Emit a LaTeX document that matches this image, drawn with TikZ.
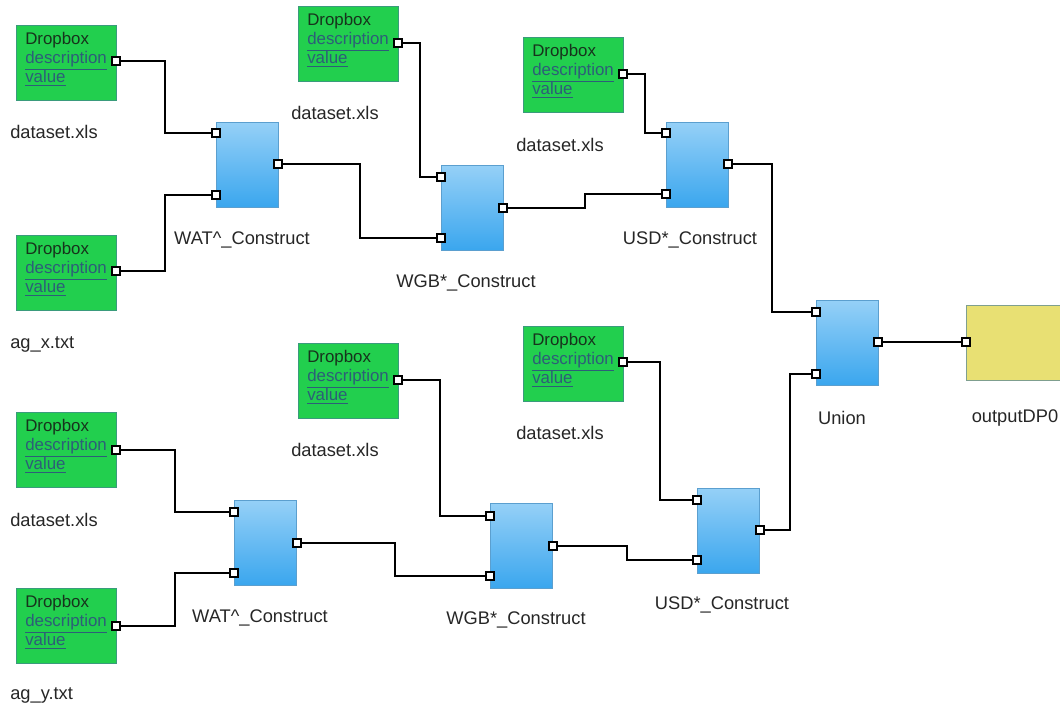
\documentclass[tikz,border=0pt]{standalone}
\usepackage{fontspec}
\setmainfont{Liberation Sans}
\usepackage{xcolor}

\definecolor{boxgreen}{HTML}{22CF4E}
\definecolor{greenedge}{HTML}{3A9B7C}
\definecolor{linkblue}{HTML}{2D5E78}
\definecolor{droptext}{HTML}{17331C}
\definecolor{optop}{HTML}{95D0F7}
\definecolor{opbottom}{HTML}{3AA6EE}
\definecolor{opedge}{HTML}{5B9FCF}
\definecolor{outyellow}{HTML}{E8E073}
\definecolor{outedge}{HTML}{7F9F8F}

\newcommand{\dlink}[1]{\textcolor{linkblue}{\underline{#1}}}

\begin{document}
\begin{tikzpicture}[x=0.025cm, y=-0.025cm,
dropbox/.style={draw=greenedge, fill=boxgreen, anchor=north west, minimum width=2.5cm,
  minimum height=1.875cm, align=left, text width=2.05cm, inner xsep=0.22cm, inner ysep=0pt,
  text depth=1.2cm, text=droptext, font=\fontsize{12}{13.5}\selectfont},
op/.style={draw=opedge, top color=optop, bottom color=opbottom, anchor=north west,
  minimum width=1.55cm, minimum height=2.125cm, inner sep=0pt},
outbox/.style={draw=outedge, fill=outyellow, anchor=north west, minimum width=2.6cm,
  minimum height=1.875cm, inner sep=0pt},
port/.style={draw=black, fill=white, line width=0.9pt, minimum size=0.2cm, inner sep=0pt},
wire/.style={line width=1.8pt},
fname/.style={anchor=west, inner sep=0pt, text=black!85, font=\fontsize{13}{15}\selectfont},
caption/.style={inner sep=0pt, text=black!85, font=\fontsize{13}{15}\selectfont}]
\useasboundingbox (0,0) rectangle (1060,708);

% sources
\node[dropbox] (src1) at (16,25) {Dropbox\\\dlink{description}\\\dlink{value}};
\node[dropbox] (src2) at (16,235) {Dropbox\\\dlink{description}\\\dlink{value}};
\node[dropbox] (src3) at (298,6) {Dropbox\\\dlink{description}\\\dlink{value}};
\node[dropbox] (src4) at (523,37) {Dropbox\\\dlink{description}\\\dlink{value}};
\node[dropbox] (src5) at (298,343) {Dropbox\\\dlink{description}\\\dlink{value}};
\node[dropbox] (src6) at (523,326) {Dropbox\\\dlink{description}\\\dlink{value}};
\node[dropbox] (src7) at (16,412) {Dropbox\\\dlink{description}\\\dlink{value}};
\node[dropbox] (src8) at (16,588) {Dropbox\\\dlink{description}\\\dlink{value}};

\node[fname] (src1 name) at (10,132) {dataset.xls};
\node[fname] (src2 name) at (10,344) {ag\_x.txt};
\node[fname] (src3 name) at (291,113) {dataset.xls};
\node[fname] (src4 name) at (516,145) {dataset.xls};
\node[fname] (src5 name) at (291,450) {dataset.xls};
\node[fname] (src6 name) at (516,433) {dataset.xls};
\node[fname] (src7 name) at (10,520) {dataset.xls};
\node[fname] (src8 name) at (10,695) {ag\_y.txt};

% operators
\node[op] (wat1) at (216,122) {};
\node[op] (wgb1) at (441,165) {};
\node[op] (usd1) at (666,122) {};
\node[op] (union) at (816,300) {};
\node[op] (wat2) at (234,500) {};
\node[op] (wgb2) at (490,503) {};
\node[op] (usd2) at (697,488) {};
\node[outbox] (outDP) at (966,305) {};

\node[caption] (wat1 name) at (242,240) {WAT\textasciicircum\_Construct};
\node[caption] (wgb1 name) at (466,283) {WGB*\_Construct};
\node[caption] (usd1 name) at (690,240) {USD*\_Construct};
\node[caption] (union name) at (842,418) {Union};
\node[caption] (outDP name) at (1015,418) {outputDP0};
\node[caption] (wat2 name) at (260,618) {WAT\textasciicircum\_Construct};
\node[caption] (wgb2 name) at (516,620) {WGB*\_Construct};
\node[caption] (usd2 name) at (722,605) {USD*\_Construct};

% ports
\node[port] (src1p) at (116,61) {};
\node[port] (src2p) at (116,271) {};
\node[port] (src3p) at (398,43) {};
\node[port] (src4p) at (623,74) {};
\node[port] (src5p) at (398,380) {};
\node[port] (src6p) at (623,362) {};
\node[port] (src7p) at (116,450) {};
\node[port] (src8p) at (116,626) {};
\node[port] (wat1i1) at (216,133) {};
\node[port] (wat1i2) at (216,195) {};
\node[port] (wat1o) at (278,164) {};
\node[port] (wgb1i1) at (441,177) {};
\node[port] (wgb1i2) at (441,238) {};
\node[port] (wgb1o) at (503,208) {};
\node[port] (usd1i1) at (666,133) {};
\node[port] (usd1i2) at (666,194) {};
\node[port] (usd1o) at (728,164) {};
\node[port] (unioni1) at (816,312) {};
\node[port] (unioni2) at (816,374) {};
\node[port] (uniono) at (878,342) {};
\node[port] (outi) at (966,342) {};
\node[port] (wat2i1) at (234,512) {};
\node[port] (wat2i2) at (234,573) {};
\node[port] (wat2o) at (297,543) {};
\node[port] (wgb2i1) at (490,516) {};
\node[port] (wgb2i2) at (490,576) {};
\node[port] (wgb2o) at (553,546) {};
\node[port] (usd2i1) at (697,500) {};
\node[port] (usd2i2) at (697,560) {};
\node[port] (usd2o) at (760,530) {};

% wires
\draw[wire] (src1p) -- ++(49,0) |- (wat1i1);
\draw[wire] (src2p) -- ++(49,0) |- (wat1i2);
\draw[wire] (wat1o) -- ++(82,0) |- (wgb1i2);
\draw[wire] (src3p) -- ++(22,0) |- (wgb1i1);
\draw[wire] (wgb1o) -- ++(82,0) |- (usd1i2);
\draw[wire] (src4p) -- ++(22,0) |- (usd1i1);
\draw[wire] (usd1o) -- ++(44,0) |- (unioni1);
\draw[wire] (usd2o) -- ++(30,0) |- (unioni2);
\draw[wire] (uniono) -- (outi);
\draw[wire] (src7p) -- ++(59,0) |- (wat2i1);
\draw[wire] (src8p) -- ++(59,0) |- (wat2i2);
\draw[wire] (wat2o) -- ++(98,0) |- (wgb2i2);
\draw[wire] (src5p) -- ++(42,0) |- (wgb2i1);
\draw[wire] (wgb2o) -- ++(74,0) |- (usd2i2);
\draw[wire] (src6p) -- ++(37,0) |- (usd2i1);
\end{tikzpicture}
\end{document}
